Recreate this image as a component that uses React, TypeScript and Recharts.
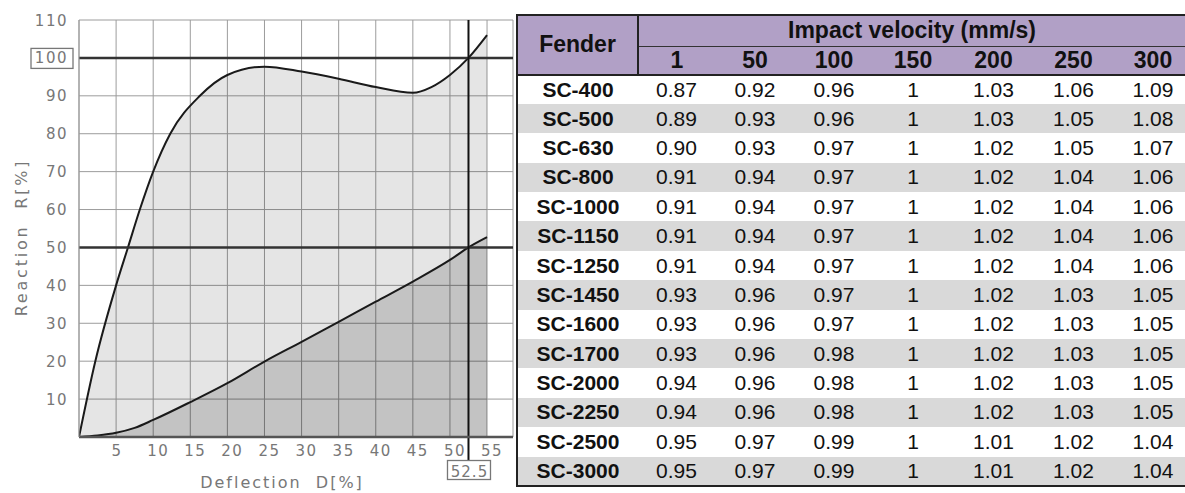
import React from "react";
import { ComposedChart, Area, XAxis, YAxis, CartesianGrid, ReferenceLine } from "recharts";

// reaction curve R[%] vs deflection D[%]
const reactionD = [0, 2.2, 5, 6.6, 8.2, 10, 12.3, 16.3, 20, 25, 30, 35, 40, 45, 47.5, 50, 52.5, 55];
const reactionR = [0, 20, 40, 50, 60, 70, 80, 90, 95.5, 97.7, 96.4, 94.5, 92.3, 90.8, 92.3, 95.5, 100, 106];

// energy absorption curve
const energyD = [0, 2.5, 5, 7.5, 10, 15, 20, 25, 30, 35, 40, 45, 50, 52.5, 55];
const energyE = [0, 0.4, 1.1, 2.4, 4.5, 9.2, 14.2, 19.9, 25.1, 30.4, 35.7, 41, 46.7, 50, 52.7];

const xTicks = [5, 10, 15, 20, 25, 30, 35, 40, 45, 50, 55];
const yTicks = [10, 20, 30, 40, 50, 60, 70, 80, 90, 100, 110];
const ratedDeflection = 52.5;

// velocity factor table
const fenders = ["SC-400", "SC-500", "SC-630", "SC-800", "SC-1000", "SC-1150", "SC-1250", "SC-1450", "SC-1600", "SC-1700", "SC-2000", "SC-2250", "SC-2500", "SC-3000"];
const velocities = ["1", "50", "100", "150", "200", "250", "300"];
const at1 = ["0.87", "0.89", "0.90", "0.91", "0.91", "0.91", "0.91", "0.93", "0.93", "0.93", "0.94", "0.94", "0.95", "0.95"];
const at50 = ["0.92", "0.93", "0.93", "0.94", "0.94", "0.94", "0.94", "0.96", "0.96", "0.96", "0.96", "0.96", "0.97", "0.97"];
const at100 = ["0.96", "0.96", "0.97", "0.97", "0.97", "0.97", "0.97", "0.97", "0.97", "0.98", "0.98", "0.98", "0.99", "0.99"];
const at150 = ["1", "1", "1", "1", "1", "1", "1", "1", "1", "1", "1", "1", "1", "1"];
const at200 = ["1.03", "1.03", "1.02", "1.02", "1.02", "1.02", "1.02", "1.02", "1.02", "1.02", "1.02", "1.02", "1.01", "1.01"];
const at250 = ["1.06", "1.05", "1.05", "1.04", "1.04", "1.04", "1.04", "1.03", "1.03", "1.03", "1.03", "1.03", "1.02", "1.02"];
const at300 = ["1.09", "1.08", "1.07", "1.06", "1.06", "1.06", "1.06", "1.05", "1.05", "1.05", "1.05", "1.05", "1.04", "1.04"];

const reactionData = reactionD.map((d, i) => ({ d, v: reactionR[i] }));
const energyData = energyD.map((d, i) => ({ d, v: energyE[i] }));
const factorCols = [at1, at50, at100, at150, at200, at250, at300];

const axisFont = { fontFamily: '"DejaVu Sans", sans-serif', fontSize: 15, fill: "#777", letterSpacing: 1.5 };
const titleFont = { ...axisFont, fontSize: 16, letterSpacing: 2 };

const YTick = (props: any) => {
  const { x, y, payload } = props;
  return (
    <g>
      {payload.value === 100 && (
        <rect x={x - 37} y={y - 9.5} width={42} height={20} fill="none" stroke="#777" strokeWidth={1.3} />
      )}
      <text x={x} y={y} dy={5.5} textAnchor="end" {...axisFont}>
        {payload.value}
      </text>
    </g>
  );
};

const XTick = (props: any) => {
  const { x, y, payload } = props;
  const dx = String(payload.value).length > 1 ? 5 : 1;
  return (
    <text x={x + dx} y={y} dy={11} textAnchor="middle" {...axisFont}>
      {payload.value}
    </text>
  );
};

// vertical line at rated deflection, running down to its boxed label
const RatedLine = (props: any) => {
  const { x1, y1, y2 } = props;
  const top = Math.min(y1, y2);
  const bottom = Math.max(y1, y2);
  return (
    <g>
      <line x1={x1} x2={x1} y1={top} y2={bottom + 23} stroke="#111" strokeWidth={2} />
      <rect x={x1 - 21} y={bottom + 23.5} width={43} height={19} fill="#fff" stroke="#777" strokeWidth={1.3} />
      <text x={x1 + 1} y={bottom + 40} textAnchor="middle" {...axisFont} letterSpacing={1}>
        {ratedDeflection}
      </text>
    </g>
  );
};

function DeflectionChart() {
  return (
    <ComposedChart width={515} height={493} margin={{ top: 20, right: 2, bottom: 0, left: 0 }}>
      <CartesianGrid stroke="#9c9c9c" strokeWidth={1} />
      <XAxis
        dataKey="d"
        type="number"
        domain={[0, 58.5]}
        ticks={xTicks}
        allowDataOverflow
        height={56}
        tickSize={0}
        tickMargin={8}
        tickLine={false}
        axisLine={{ stroke: "#555", strokeWidth: 2.5 }}
        tick={<XTick />}
        label={(p: any) => {
          const vb = p.viewBox;
          return (
            <text x={vb.x + 203} y={vb.y + 51} textAnchor="middle" {...titleFont} style={{ whiteSpace: "pre" }}>
              {"Deflection  D[%]"}
            </text>
          );
        }}
      />
      <YAxis
        type="number"
        domain={[0, 110]}
        ticks={yTicks}
        width={79}
        tickSize={0}
        tickMargin={11}
        tickLine={false}
        axisLine={{ stroke: "#999", strokeWidth: 1 }}
        tick={<YTick />}
        label={(p: any) => {
          const vb = p.viewBox;
          const cx = vb.x + 22;
          const cy = vb.y + vb.height / 2 + 9;
          return (
            <text x={cx} y={cy} textAnchor="middle" transform={`rotate(-90 ${cx} ${cy})`} dy={5} {...titleFont} letterSpacing={2.8} style={{ whiteSpace: "pre" }}>
              {"Reaction  R[%]"}
            </text>
          );
        }}
      />
      <Area
        data={reactionData}
        dataKey="v"
        type="monotone"
        stroke="#1a1a1a"
        strokeWidth={2}
        fill="#000"
        fillOpacity={0.1}
        dot={false}
        activeDot={false}
        isAnimationActive={false}
      />
      <Area
        data={energyData}
        dataKey="v"
        type="monotone"
        stroke="#1a1a1a"
        strokeWidth={2}
        fill="#000"
        fillOpacity={0.15}
        dot={false}
        activeDot={false}
        isAnimationActive={false}
      />
      <ReferenceLine y={100} stroke="#333" strokeWidth={2.5} />
      <ReferenceLine y={50} stroke="#333" strokeWidth={2.5} />
      <ReferenceLine x={ratedDeflection} shape={<RatedLine />} />
    </ComposedChart>
  );
}

const border = "2px solid #222";
const colWidths = [77, 80, 78, 80, 81, 79, 73];

function FactorTable() {
  const th: React.CSSProperties = { padding: 0, fontWeight: "bold", fontSize: 23, textAlign: "center", verticalAlign: "middle" };
  return (
    <table
      style={{
        borderCollapse: "collapse",
        tableLayout: "fixed",
        width: 669,
        fontFamily: '"Liberation Sans", Arial, sans-serif',
        color: "#111",
        border,
      }}
    >
      <colgroup>
        <col style={{ width: 121 }} />
        {colWidths.map((w, i) => (
          <col key={i} style={{ width: w }} />
        ))}
      </colgroup>
      <thead style={{ background: "#b1a0c6" }}>
        <tr style={{ height: 31 }}>
          <th rowSpan={2} style={{ ...th, borderRight: border, borderBottom: border }}>
            Fender
          </th>
          <th colSpan={7} style={{ ...th, borderBottom: "1.5px solid #333" }}>
            Impact velocity (mm/s)
          </th>
        </tr>
        <tr style={{ height: 28 }}>
          {velocities.map((v, i) => (
            <th key={v} style={{ ...th, borderBottom: border, paddingLeft: i === 6 ? 8 : 0 }}>
              {v}
            </th>
          ))}
        </tr>
      </thead>
      <tbody>
        {fenders.map((f, r) => (
          <tr key={f} style={{ height: 29.4, background: r % 2 === 1 ? "#d9d9d9" : "#fff" }}>
            <td style={{ padding: 0, textAlign: "center", fontWeight: "bold", fontSize: 21 }}>{f}</td>
            {factorCols.map((col, c) => (
              <td key={c} style={{ padding: 0, paddingLeft: c === 6 ? 8 : 0, textAlign: "center", fontSize: 21 }}>
                {col[r]}
              </td>
            ))}
          </tr>
        ))}
      </tbody>
    </table>
  );
}

export default function App() {
  return (
    <div style={{ position: "absolute", left: 0, top: 0, width: 1185, height: 493, background: "#fff", overflow: "hidden" }}>
      <div style={{ position: "absolute", left: 0, top: 0 }}>
        <DeflectionChart />
      </div>
      <div style={{ position: "absolute", left: 516, top: 14 }}>
        <FactorTable />
      </div>
    </div>
  );
}
